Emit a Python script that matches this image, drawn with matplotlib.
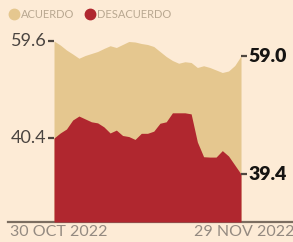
import matplotlib.pyplot as plt
from matplotlib.lines import Line2D
from matplotlib.transforms import offset_copy

# ------------------------------------------------------------
# DATA (daily tracking, 30 oct - 29 nov 2022)
# ------------------------------------------------------------

days = list(range(31))

acuerdo = [59.6, 59.44, 59.24, 59.08, 58.91, 59.02, 59.10, 59.18, 59.30, 59.41,
           59.34, 59.46, 59.58, 59.56, 59.50, 59.46, 59.38, 59.18, 58.98, 58.82,
           58.71, 58.77, 58.74, 58.54, 58.61, 58.54, 58.44, 58.34, 58.40, 58.62,
           59.0]

desacuerdo = [40.4, 40.54, 40.65, 40.90, 41.01, 40.93, 40.85, 40.82, 40.71, 40.54,
              40.62, 40.47, 40.44, 40.36, 40.53, 40.53, 40.59, 40.81, 40.85, 41.10,
              41.10, 41.10, 41.07, 40.29, 39.88, 39.87, 39.87, 40.05, 39.90, 39.65,
              39.4]

x_labels = ["30 OCT 2022", "29 NOV 2022"]
series_names = ["ACUERDO", "DESACUERDO"]

BG = "#fdebd6"
TAN = "#e5c78f"
RED = "#b0272f"

FONT = "Lato"

# ------------------------------------------------------------
# FIGURE
# ------------------------------------------------------------

fig = plt.figure(figsize=(2.93, 2.42), dpi=100, facecolor=BG)

ax = fig.add_axes([8 / 293, 20 / 242, 285 / 293, 192 / 242])
ax.set_facecolor(BG)

ax.fill_between(days, 52.36, acuerdo, color=TAN, lw=0)

ax2 = ax.twinx()
ax2.fill_between(days, 38.067, desacuerdo, color=RED, lw=0)


def end_label(a, x, y, side, bold):
    sgn = -1 if side == "left" else 1
    # short tick dash next to the value
    a.plot([x, x + sgn * 1.0], [y, y], color="#4f4740", lw=1.6,
           solid_capstyle="butt", clip_on=False, zorder=6)
    a.annotate(f"{y:.1f}", xy=(x, y), xytext=(sgn * 5.5, 0), textcoords="offset points",
               ha="right" if side == "left" else "left", va="center",
               fontname=FONT, fontsize=14 if bold else 13,
               fontweight="heavy" if bold else "normal",
               color="#161412" if bold else "#4a4440",
               annotation_clip=False)


end_label(ax, days[0], acuerdo[0], "left", False)
end_label(ax2, days[0], desacuerdo[0], "left", False)
end_label(ax, days[-1], acuerdo[-1], "right", True)
end_label(ax2, days[-1], desacuerdo[-1], "right", True)

ax.set_xlim(-7.38, 38.34)
ax.set_ylim(52.36, 60.04)
ax2.set_ylim(38.067, 43.4)

for a in (ax, ax2):
    for s in ("left", "right", "top"):
        a.spines[s].set_visible(False)
    a.set_yticks([])

ax.spines["bottom"].set_color("#7b6d60")
ax.spines["bottom"].set_linewidth(1.6)
ax2.spines["bottom"].set_visible(False)

ax.set_xticks([days[0], days[-1]])
ax.set_xticklabels(x_labels, fontname=FONT, fontsize=11.5, color="#948a81")
ax.tick_params(axis="x", length=0, pad=2)
for lbl, dx in zip(ax.get_xticklabels(), (5, 3)):
    lbl.set_transform(offset_copy(lbl.get_transform(), fig, x=dx, units="dots"))

handles = [Line2D([], [], ls="", marker="o", ms=7.5, color=c) for c in (TAN, RED)]
leg = fig.legend(handles, series_names, loc="upper left", bbox_to_anchor=(0.0, 1.0),
                 ncol=2, frameon=False, handletextpad=0.1, columnspacing=0.9,
                 handlelength=1.0, borderaxespad=0.4,
                 prop={"family": FONT, "size": 8})
for t in leg.get_texts():
    t.set_color("#b9a891")

fig.savefig("out.png", dpi=100, facecolor=BG)
